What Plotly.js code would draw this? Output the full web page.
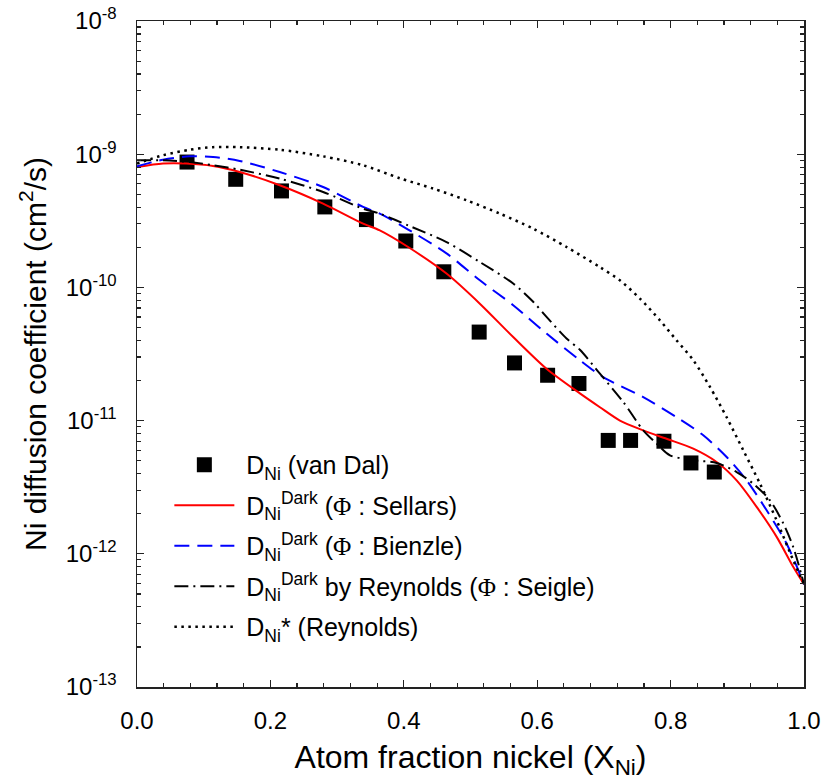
<!DOCTYPE html>
<html>
<head>
<meta charset="utf-8">
<script src="https://cdn.plot.ly/plotly-3.0.1.min.js"></script>
<style>html,body{margin:0;padding:0;background:#fff;}#chart{width:833px;height:780px;}</style>
</head>
<body>
<div id="chart"></div>
<script>
// Experimental data: van Dal
var vanDalX = [0.075, 0.148, 0.2166, 0.2816, 0.344, 0.403, 0.46, 0.513, 0.566, 0.6156, 0.6626, 0.7065, 0.740, 0.79, 0.8305, 0.8655];
var vanDalY = [8.73e-10, 6.48e-10, 5.3e-10, 4.02e-10, 3.23e-10, 2.23e-10, 1.31e-10, 4.62e-11, 2.71e-11, 2.19e-11, 1.9e-11, 7.1e-12, 7.1e-12, 7.0e-12, 4.81e-12, 4.11e-12];

// Darken, Phi: Sellars
var sellarsX = [0, 0.039, 0.074, 0.114, 0.154, 0.214, 0.279, 0.339, 0.364, 0.4065, 0.464, 0.514, 0.564, 0.614, 0.664, 0.694, 0.724, 0.759, 0.794, 0.834, 0.869, 0.899, 0.929, 0.959, 0.984, 1.0];
var sellarsY = [8.0e-10, 8.5e-10, 8.5e-10, 8.15e-10, 7.35e-10, 5.85e-10, 4.26e-10, 3.01e-10, 2.68e-10, 2.01e-10, 1.27e-10, 7.55e-11, 4.24e-11, 2.45e-11, 1.6e-11, 1.26e-11, 1.0e-11, 8.45e-12, 7.3e-12, 6.16e-12, 4.89e-12, 3.56e-12, 2.25e-12, 1.34e-12, 7.96e-13, 5.9e-13];

// Darken, Phi: Bienzle
var bienzleX = [0, 0.039, 0.079, 0.114, 0.154, 0.214, 0.279, 0.339, 0.364, 0.4065, 0.464, 0.514, 0.564, 0.614, 0.664, 0.699, 0.759, 0.809, 0.849, 0.884, 0.914, 0.944, 0.974, 1.0];
var bienzleY = [8.1e-10, 9.1e-10, 9.64e-10, 9.53e-10, 8.9e-10, 7.35e-10, 5.67e-10, 4.02e-10, 3.58e-10, 2.72e-10, 1.8e-10, 1.13e-10, 7.35e-11, 4.5e-11, 2.84e-11, 2.12e-11, 1.5e-11, 1.06e-11, 7.76e-12, 5.33e-12, 3.56e-12, 2.12e-12, 1.19e-12, 5.9e-13];

// Darken by Reynolds, Phi: Seigle
var seigleX = [0, 0.039, 0.079, 0.114, 0.154, 0.214, 0.279, 0.339, 0.364, 0.4065, 0.464, 0.514, 0.564, 0.594, 0.614, 0.644, 0.664, 0.694, 0.729, 0.759, 0.779, 0.799, 0.834, 0.869, 0.899, 0.924, 0.949, 0.969, 0.984, 1.0];
var seigleY = [9.0e-10, 9.0e-10, 8.73e-10, 8.26e-10, 7.65e-10, 6.56e-10, 5.2e-10, 3.9e-10, 3.58e-10, 2.92e-10, 2.19e-10, 1.55e-10, 1.07e-10, 7.8e-11, 6.0e-11, 4.13e-11, 3.4e-11, 2.25e-11, 1.38e-11, 8.45e-12, 6.72e-12, 5.49e-12, 5.04e-12, 4.81e-12, 4.11e-12, 3.36e-12, 2.52e-12, 1.69e-12, 1.12e-12, 5.9e-13];

// Tracer diffusion D* (Reynolds)
var tracerX = [0, 0.039, 0.079, 0.114, 0.154, 0.214, 0.279, 0.339, 0.394, 0.444, 0.494, 0.544, 0.594, 0.644, 0.694, 0.724, 0.754, 0.784, 0.809, 0.834, 0.859, 0.884, 0.909, 0.934, 0.959, 0.984, 1.0];
var tracerY = [8.5e-10, 9.82e-10, 1.08e-9, 1.13e-9, 1.13e-9, 1.08e-9, 9.64e-10, 8.26e-10, 6.6e-10, 5.52e-10, 4.51e-10, 3.58e-10, 2.76e-10, 2.01e-10, 1.42e-10, 1.13e-10, 8.24e-11, 5.66e-11, 4.0e-11, 2.84e-11, 1.79e-11, 1.06e-11, 5.98e-12, 3.36e-12, 1.78e-12, 8.9e-13, 5.9e-13];

var PHI = "<span style=\"font-family:Liberation Serif\">Φ</span>";
var seriesNames = [
  "\u00a0D<sub>Ni</sub> (van Dal)",
  "\u00a0D<sub>Ni</sub><sup>Dark</sup> (" + PHI + " : Sellars)",
  "\u00a0D<sub>Ni</sub><sup>Dark</sup> (" + PHI + " : Bienzle)",
  "\u00a0D<sub>Ni</sub><sup>Dark</sup> by Reynolds (" + PHI + " : Seigle)",
  "\u00a0D<sub>Ni</sub>* (Reynolds)"
];

var yTickVals = [1e-13, 1e-12, 1e-11, 1e-10, 1e-9, 1e-8];
var yTickText = ["10<sup>-13</sup>", "10<sup>-12</sup>", "10<sup>-11</sup>", "10<sup>-10</sup>", "10<sup>-9</sup>", "10<sup>-8</sup>"];

var FONT = "Liberation Sans, Arial, sans-serif";

var traces = [
  {x: vanDalX, y: vanDalY, type: 'scatter', mode: 'markers', name: seriesNames[0], legendgroup: 'a',
   marker: {symbol: 'square', size: 15, color: '#000'}},
  {x: sellarsX, y: sellarsY, type: 'scatter', mode: 'lines', name: seriesNames[1], legendgroup: 'b',
   line: {color: '#ff0000', width: 2, shape: 'spline', smoothing: 0.8}},
  {x: bienzleX, y: bienzleY, type: 'scatter', mode: 'lines', name: seriesNames[2], legendgroup: 'c',
   line: {color: '#0000ff', width: 2, dash: '15px,8px', shape: 'spline', smoothing: 0.8}},
  {x: seigleX, y: seigleY, type: 'scatter', mode: 'lines', name: seriesNames[3], legendgroup: 'd',
   line: {color: '#000000', width: 2, dash: '14px,5px,2px,5px', shape: 'spline', smoothing: 0.8}},
  {x: tracerX, y: tracerY, type: 'scatter', mode: 'lines', name: seriesNames[4], legendgroup: 'e',
   line: {color: '#000000', width: 2.5, dash: '2.5px,4.5px', shape: 'spline', smoothing: 0.8}}
];

var layout = {
  width: 833, height: 780,
  margin: {l: 137, r: 29, t: 21, b: 93, pad: 0},
  paper_bgcolor: '#fff', plot_bgcolor: '#fff',
  font: {family: FONT, size: 24, color: '#000'},
  showlegend: true,
  legend: {
    x: 0.0485, y: 0.368, xanchor: 'left', yanchor: 'top',
    bgcolor: 'rgba(0,0,0,0)', borderwidth: 0,
    font: {family: FONT, size: 25, color: '#000'},
    itemwidth: 60, tracegroupgap: 5
  },
  xaxis: {
    range: [0, 1], dtick: 0.2, tick0: 0, tickformat: '.1f',
    ticks: 'inside', ticklen: 7, tickwidth: 1.3, tickcolor: '#222',
    showline: true, linecolor: '#222', linewidth: 1.5, mirror: 'ticks',
    showgrid: false, zeroline: false,
    tickfont: {family: FONT, size: 24, color: '#000'},
    ticklabelstandoff: 12,
    minor: {dtick: 0.04, tick0: 0, ticks: 'inside', ticklen: 4, tickwidth: 1.2, tickcolor: '#222', showgrid: false},
    title: {text: 'Atom fraction nickel (X<sub>Ni</sub>)', font: {family: FONT, size: 32, color: '#000'}, standoff: 16}
  },
  yaxis: {
    type: 'log', range: [-13, -8],
    tickmode: 'array', tickvals: yTickVals, ticktext: yTickText,
    ticks: 'inside', ticklen: 7, tickwidth: 1.3, tickcolor: '#222',
    showline: true, linecolor: '#222', linewidth: 1.5, mirror: 'ticks',
    showgrid: false, zeroline: false,
    tickfont: {family: FONT, size: 24, color: '#000'},
    ticklabelstandoff: 14,
    minor: {dtick: 'D1', ticks: 'inside', ticklen: 4, tickwidth: 1.2, tickcolor: '#222', showgrid: false},
    title: {text: 'Ni diffusion coefficient (cm<sup>2</sup>/s)', font: {family: FONT, size: 30, color: '#000'}, standoff: 10}
  }
};

Plotly.newPlot('chart', traces, layout, {displayModeBar: false, staticPlot: true});
</script>
</body>
</html>
